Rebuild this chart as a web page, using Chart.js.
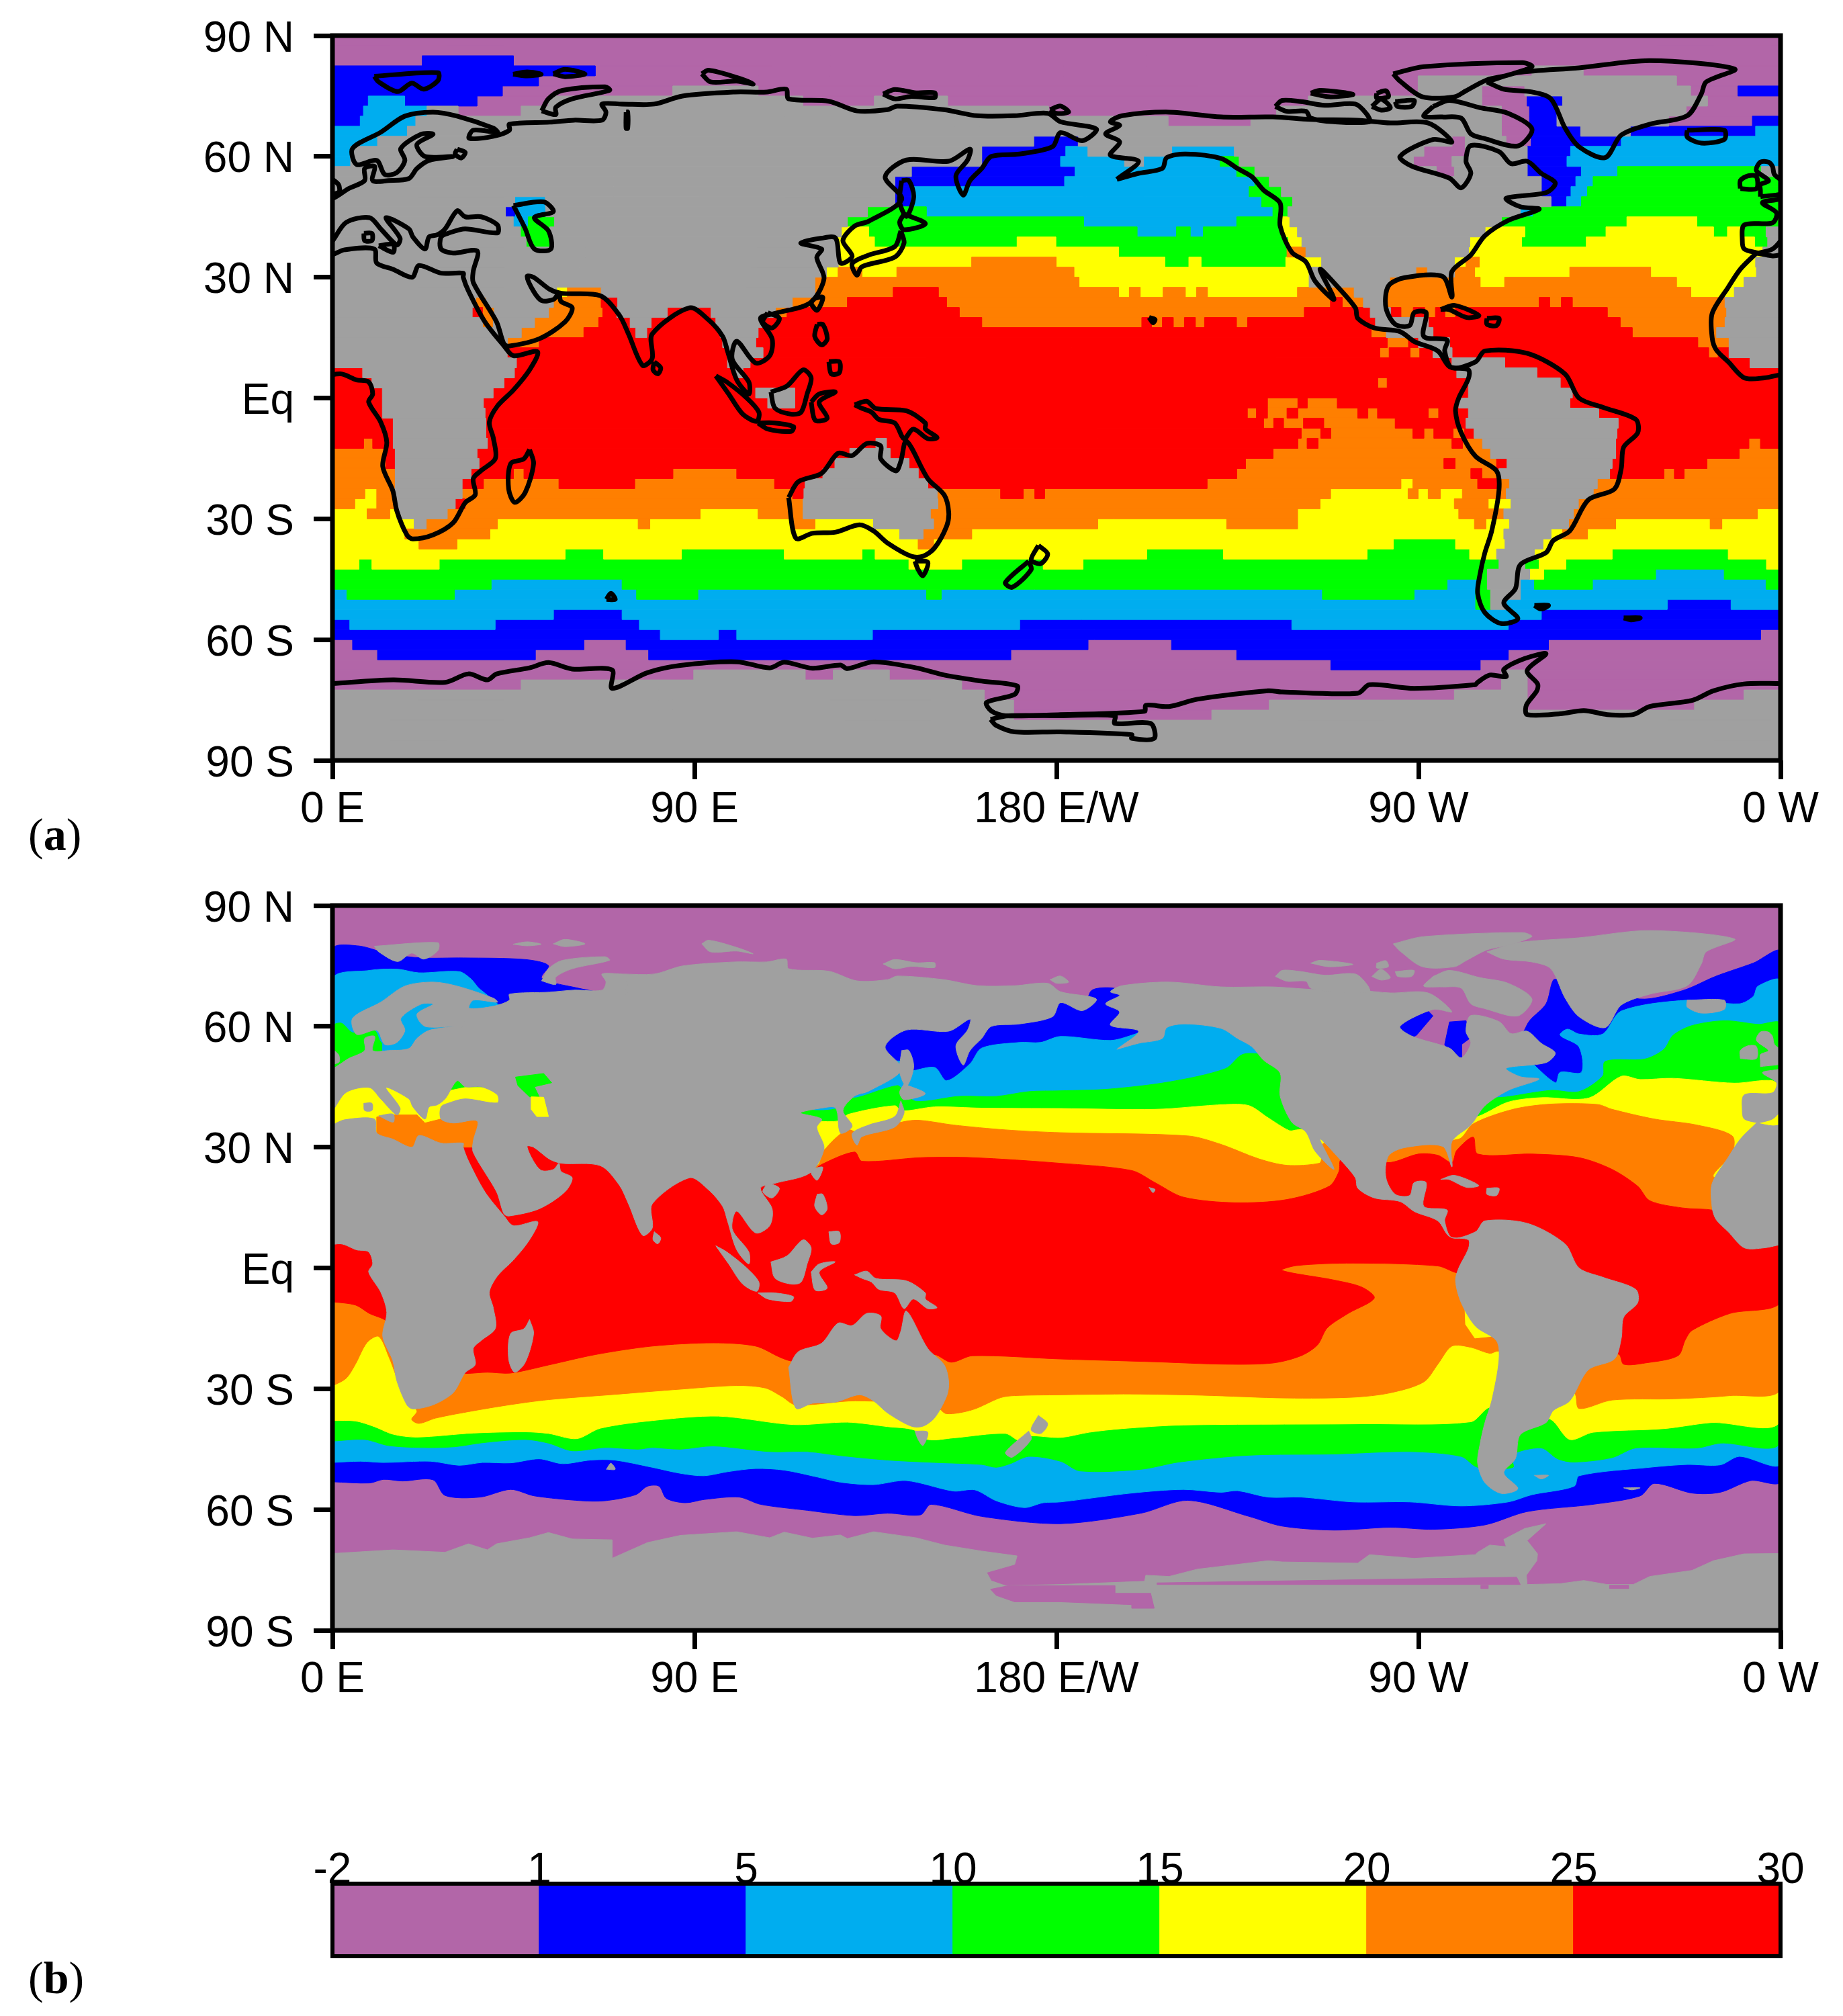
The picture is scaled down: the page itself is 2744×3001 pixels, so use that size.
<!DOCTYPE html>
<html>
<head>
<meta charset="utf-8">
<script src="https://cdn.jsdelivr.net/npm/chart.js@4"></script>
<style>
  html, body { margin: 0; background: #fff; }
  body { position: relative; width: 2744px; height: 3001px; overflow: hidden; }
  canvas { position: absolute; left: 0; }
  .tag { position: absolute; left: 42px; font: 68px "Liberation Serif", serif; line-height: 1; color: #000; }
  .tag b { font-weight: bold; }
</style>
</head>
<body>
<canvas id="mapA" width="2744" height="1290" style="top:0"></canvas>
<canvas id="mapB" width="2744" height="1290" style="top:1295px"></canvas>
<canvas id="scaleBar" width="2744" height="240" style="top:2700px"></canvas>
<div class="tag" style="top:1208px">(<b>a</b>)</div>
<div class="tag" style="top:2910px">(<b>b</b>)</div>
<script>
// temperature classes
const P = 0, B = 1, C = 2, G = 3, Y = 4, O = 5, R = 6, L = 7;
const classColors = ['#b266a8', '#0000ff', '#00adef', '#00ff00', '#ffff00', '#ff7f00', '#ff0000', '#a0a0a0'];
const barTicks = ['-2', '1', '5', '10', '15', '20', '25', '30'];

const lonTicks = [0, 90, 180, 270, 360];
const lonLabels = ['0 E', '90 E', '180 E/W', '90 W', '0 W'];
const latTicks = [-90, -60, -30, 0, 30, 60, 90];
const latLabels = ['90 S', '60 S', '30 S', 'Eq', '30 N', '60 N', '90 N'];

// panel (a): one row every 2.5 deg from 90N, pairs of [start lon, class]
const gridRows = [
  [0,P],
  [0,P],
  [0,P,22.3,B,45,P],
  [0,B,65.3,P,298.2,L,310.9,P],
  [0,B,51.2,P,269.9,L,334.1,P],
  [0,B,42.2,P,84.6,L,105.8,P,269.9,L,285.7,P,296.4,L,337.6,P,349.4,B],
  [0,B,8.9,C,17.9,B,35.9,P,53.7,L,116.9,P,134.7,L,152.9,P,242.6,L,285.7,P,297,B,305.8,L,341.8,P],
  [0,B,7.7,C,23.5,L,31.2,P,46.9,L,178,P,234.7,L,290.6,P,297.6,B,304.4,L,336.5,P],
  [0,B,6.9,C,20.7,L,207.7,P,228.3,L,290.6,P,297.6,B,304.4,L,332.2,P,353,B],
  [0,C,18.6,L,290.6,P,298.2,B,310.3,L,322.6,B,353.8,C],
  [0,C,11.2,L,174.3,B,185.4,L,278.3,P,281.6,L,291.7,P,298,B,320.4,C],
  [0,C,4.5,L,161.4,B,182.3,C,187.8,L,208.6,C,224.2,L,271.3,P,281.6,L,297,B,307.8,C],
  [0,C,4.5,L,161.4,B,181,C,196.9,L,201.6,C,220.7,G,225.4,L,268.7,P,278.3,L,297,B,306.9,C],
  [0,L,143.9,B,184.6,C,224.8,G,229.3,L,274.4,P,278.9,L,297,B,310.5,C,319.5,G,355.2,L],
  [0,L,139.8,B,182,C,229.3,G,232.9,L,300.5,B,309.1,C,313.4,G],
  [0,L,139.8,B,143.9,C,227.9,G,235.9,L,300.5,B,307.9,C,312,G],
  [0,L,45.3,C,52.9,L,139.8,B,143.9,C,231,G,238.7,L,302.9,B,306.8,C,310.5,G],
  [0,L,43,B,45.5,C,53,L,133,G,147.6,C,233.8,G,237.5,L,295.3,C,298.5,G],
  [0,L,44.9,C,48.7,G,55.2,L,128,G,186.7,C,224.8,G,235.9,Y,238,L,290.6,G,321.8,Y,339.2,G],
  [0,L,46.7,G,54,L,126.5,Y,133.3,G,200,C,209.8,G,213.2,C,216.5,G,235.9,Y,239.9,L,286.5,Y,296.4,G,316.6,Y,343.3,G,346.8,Y,350,G,356.4,L],
  [0,L,48.1,G,54.3,L,125.1,Y,134.7,G,170.2,Y,179.8,G,237.7,Y,241,L,282.7,Y,295.6,G,311.7,Y,353.5,G,356.8,L],
  [0,L,125.7,Y,195.4,G,237.3,O,242,L,282.4,Y,355.6,L],
  [0,L,125.7,Y,158.9,O,179.9,Y,206.9,G,212.9,Y,215.9,G,237,Y,245.9,L,278.9,Y,281.8,O,285.1,Y,353.8,L],
  [0,L,122.8,Y,125.7,O,131.6,Y,140.3,O,184.3,Y,242.8,L,269.3,O,272.2,L,278.9,O,283.9,Y,307.6,O,327.7,Y,354,L],
  [0,L,119.9,O,185.6,Y,242.8,L,262.8,O,285.3,Y,291.4,O,334.1,Y,350.9,L],
  [0,L,55.7,Y,58.4,O,66.8,L,119.9,O,139.4,R,150.6,O,195.4,Y,198.1,O,200.8,Y,206.5,O,212,Y,214.8,O,217.5,Y,239.9,O,254,L,261.9,O,337.7,Y,348.5,L],
  [0,L,35.6,O,38.1,L,54.9,O,66.8,R,70.9,L,114.3,O,128,R,152.7,O,248.1,R,251,O,256.3,L,261.9,O,300,R,302.6,O,305.5,R,308.2,O,346.2,L],
  [0,L,34.7,R,37.3,O,40.2,L,53.7,O,67.2,R,70.7,L,83.2,R,94.1,L,110.1,O,113,R,155.8,O,241.6,R,258,L,263,R,265.6,O,268.7,R,271.5,O,274.2,R,276.5,O,279.2,R,316.9,O,346.6,L],
  [0,L,37.3,O,40,L,50.2,O,66.2,R,74,L,79.2,R,95.3,L,107,R,161.4,O,201.2,R,203.6,O,206.3,R,209,O,211.8,R,214.5,O,216.8,R,224.7,O,227.5,R,259.3,L,272.4,R,320.1,O,346.2,L],
  [0,L,46.9,O,62.5,R,75.4,L,78.1,R,96.4,L,105.8,R,258.2,O,262,L,273.6,R,323.1,O,344.1,L],
  [0,L,43.5,O,51.4,R,97,L,105.2,R,262.2,O,267.5,R,270,L,277.7,R,339.4,O,347.2,L],
  [0,L,43.4,R,98.2,L,107,R,260.4,O,262.7,R,267.9,O,270.3,R,273.6,L,278.3,R,342.1,O,344.5,R,347.2,L],
  [0,L,45.7,R,98.2,L,103.8,R,278.3,L,291.4,R,352.4,L],
  [0,R,7.5,L,45.2,R,100,L,102,R,279.5,L,299.4,R],
  [0,R,9.8,L,42.6,R,259.9,O,262.2,R,282.4,L,305.2,R],
  [0,R,12.4,L,39.9,R,105.2,L,114.9,R,282.4,L,308.2,R],
  [0,R,12.4,L,37.5,R,108.2,L,114.9,R,232.4,O,240,R,242.3,O,249.8,R,280,L,307.6,R],
  [0,R,12.4,L,37.9,R,227.4,O,229.7,R,232.4,O,237.3,R,240,O,254.9,R,257.4,O,259.8,R,272.4,O,275,R,282.4,L,314.8,R],
  [0,R,15.1,L,38.1,R,231.5,O,234,R,236.4,O,241.4,R,246.4,O,264.2,R,281.8,L,319.6,R],
  [0,R,15.1,L,38.1,R,240.8,O,245.7,R,248.2,O,268.6,R,271.3,O,273.8,R,278.6,O,281.4,R,283.8,L,319.3,R],
  [0,R,7.7,O,10,R,15.1,L,38.5,R,135.1,L,137.7,R,240,O,242.3,R,245,O,278.3,R,280.9,O,285.9,L,319,R,352.1,O,355,R],
  [0,O,13.3,R,15.6,L,35.9,R,128.6,L,138.6,R,233.8,O,287.9,L,319,R,349.7,O],
  [0,O,13.3,R,15.6,L,36.4,R,124.9,L,143.3,R,227,O,276.3,R,279.1,O,289.4,R,292,L,318.1,R,341.7,O],
  [0,O,15.6,L,34.4,R,45,O,47.6,R,84.6,O,100.5,R,121.9,L,145.6,R,224.8,O,283,R,285.7,O,290,L,317.5,R,331,O,333.6,R,336,O],
  [0,O,15.6,L,32.2,R,37.5,O,56.3,R,75.1,O,109.9,R,117.5,L,148,R,217.4,O,265.6,Y,268.6,O,284.7,R,289.4,O,292.6,L,314.4,O],
  [0,O,8,Y,11,O,15.1,L,32.2,O,114.4,R,117.2,L,150.3,O,166.1,R,171.7,O,174.6,R,177,O,248.1,Y,267.4,O,269.9,Y,272.4,O,275.4,Y,280.9,O,291.8,L,313.4,O],
  [0,O,5.5,Y,11,O,15.6,L,30.5,R,32.9,O,117,L,150.5,O,245.5,Y,278.9,O,287.3,Y,293,L,309.7,O],
  [0,Y,8.6,O,14.2,Y,16,L,28.5,O,91.4,Y,105.8,O,117,L,148.6,O,239.9,Y,280,O,291.2,L,308.5,O,354.2,Y],
  [0,Y,20.3,L,23.3,O,41,Y,76,O,78.9,Y,114,O,119.9,Y,134.5,L,149.4,O,190.2,Y,222.3,O,239.9,Y,283.9,O,286.7,Y,292.6,L,307.3,O,319,Y,342.5,O,345.4,Y],
  [0,Y,18,O,39.1,Y,141,L,146.8,O,158.9,Y,291.2,L,302.9,Y,305.8,O,312,Y],
  [0,Y,21.5,O,30.9,Y,145.6,O,149.4,Y,263.7,G,279.2,Y,291.5,L,300.9,Y],
  [0,Y,57.8,G,67.4,Y,86.7,G,112.3,Y,131.6,G,134.9,Y,202.4,G,221.5,Y,257.2,G,282.7,Y,289.4,L,298.8,Y,318.1,G,347,Y],
  [0,Y,6.6,G,9.8,Y,26.5,G,143.3,Y,156.4,G,176.7,Y,186.6,G,290,L,296.4,G,300,Y,306.6,G,356.5,Y],
  [0,G,287.1,L,297.6,Y,301.1,G,328.9,C,346,G],
  [0,G,39.4,C,72,G,277.1,C,284.7,G,287.1,L,295.3,C,298.8,G,313.2,C,356.4,G],
  [0,C,3.6,G,30.3,C,75.6,G,90.8,C,147.7,G,151.3,C,246.1,G,268.9,C,284.2,G,287.9,L,295.3,C],
  [0,C,284.2,G,287.9,L,291.8,C,331.8,B,347.7,C],
  [0,C,54.9,B,72,C,300.5,B],
  [0,B,4.3,C,40.4,B,76.3,C,170.8,B,238.5,C,292.3,B],
  [0,B,81.5,C,95.9,B,100.5,C,134.2,B,355,P],
  [0,P,5,B,62.5,P,73,B,187.8,P,208.6,B,302.3,P],
  [0,P,11.2,B,50.4,P,78.6,B,168.6,P,224.8,B,292.3,P],
  [0,P,248.2,B,285.3,P],
  [0,P,89.8,L,117.5,P,124.5,L,138.4,P,290.6,L,297,P],
  [0,P,46.9,L,156.4,P,290.6,L,297,P],
  [0,L,162,P,278.9,L,297,P,350.9,L],
  [0,L,169.3,P,232.9,L,297,P,338.6,L],
  [0,L,169.3,P,218.6,L],
  [0,L],
  [0,L],
  [0,L],
  [0,L]
];

// panel (b): isotherms as lon,lat pairs, each band = south edge + north edge
const above1South = [0,-53.1, 9.2,-53.4, 12.7,-52.5, 17.4,-52.9, 25,-52.6, 28,-56.5, 36.7,-56.9, 44.3,-55, 50.2,-56.6, 61.9,-57.8, 67.8,-57.8, 75.4,-56.3, 78.3,-54.2, 81.2,-54.2, 83,-57.2, 87.7,-58.3, 92.4,-57.5, 101.1,-56.9, 106.4,-58.7, 118.1,-60.2, 129.8,-61.5, 138,-60.9, 146.2,-61.3, 148.8,-58.7, 161.4,-61.7, 181,-63.5, 201,-60.9, 212.7,-57.7, 227.9,-61.7, 236.1,-64.1, 249,-65.1, 263,-64.4, 273.6,-64.9, 286.5,-63.8, 297,-60.5, 313.4,-58.7, 325.1,-56.6, 328.6,-53.5, 338,-55.9, 345,-55.7, 352.6,-52.8, 360,-52.8];
const above1North = [0,79, 6.3,80, 14,78, 22,77, 32.6,77, 47.9,76.6, 53.7,75.1, 52,72, 59.6,69.8, 80,66, 120,60, 135,57, 150,63, 165,66, 178,66, 187,66, 188.7,68.9, 191.6,69.6, 195,69.3, 205,65, 240,52, 285,50, 295,57, 297.6,61.4, 301.7,65.6, 303.5,71.5, 305.2,71.5, 325,66.8, 335.7,68.9, 343.8,72.4, 353.2,75.7, 360,78.4];
const above5South = [0,-48.3, 6.9,-48, 12.7,-48.3, 24.4,-48, 31.5,-49, 37.3,-48.3, 44.3,-48.4, 51.4,-47.4, 57.2,-48.6, 64.2,-47.7, 70.1,-47.7, 79.5,-49.5, 86.5,-51, 92.4,-51.6, 98.2,-50.6, 105.2,-49.8, 112.3,-50.2, 120.5,-51.9, 126.3,-53.2, 134.5,-53.8, 142.7,-52.8, 154.4,-55.4, 159.7,-55.1, 165,-57.8, 172,-59.5, 176.7,-58.3, 181,-58.1, 198.7,-55.9, 211.5,-55, 220.9,-55.7, 225,-55.3, 232.6,-56.9, 240.8,-56.9, 253.7,-58.1, 267.8,-58.1, 280.6,-59.1, 292.3,-58.1, 298.2,-56.3, 308.7,-54.2, 309.9,-51.6, 327.5,-49.5, 336.8,-48.8, 345,-48.9, 349.7,-46.8, 360,-48.3];
const above5North = [0,71.5, 9.2,73.9, 16.2,74.2, 21.5,73.3, 31.5,73.6, 34.4,71.8, 36.7,69.2, 50,60, 100,55, 135,51, 141.5,51.3, 142.7,48.9, 149.7,49.8, 152.7,46.5, 158.5,50.7, 161.4,54.6, 170.8,56, 176,56, 181,57.5, 193.4,56.5, 198.7,57.8, 205,60, 225,62, 280,48, 292,55, 304,46, 305.2,48.6, 310.5,48.6, 309.9,54.9, 305.2,57.8, 307,59.3, 309.9,58.1, 315.8,58.1, 320.4,63.8, 336.8,66.5, 349.7,65.6, 353.2,67.4, 354.4,70, 360,71.2];
const above10South = [0,-43, 8,-42.6, 13.9,-44.1, 22.1,-44.6, 30.3,-44.4, 37.3,-43.4, 47.9,-42.6, 53.7,-43.5, 59.6,-45.4, 67.8,-44.6, 76,-45, 79.5,-44.6, 86.5,-45, 94.7,-44.2, 108.7,-45.6, 118.1,-45.6, 126.3,-46.6, 138,-47.7, 149.7,-48.3, 161.4,-48.8, 165,-49.5, 168.5,-48.6, 173.1,-46.8, 181,-48, 185.8,-50.4, 201,-50, 210.4,-48.2, 227.9,-46.5, 249,-46.2, 267.8,-45.6, 280.6,-46.8, 284.7,-49.5, 293.5,-49.5, 293,-46.5, 300.5,-44.7, 304.6,-47.4, 308.7,-48.2, 318.1,-47.1, 324,-44.7, 339.2,-44.7, 345,-43.5, 360,-43];
const above10North = [0,59.9, 2.2,60.8, 5.1,58.4, 10.4,59, 12.1,56, 20,50, 40,48, 100,45, 117,39.5, 125,39.5, 127,42, 130.4,42.3, 140.4,45.3, 142,44, 145,41.4, 155.6,42.6, 165,42.6, 173.1,43.8, 181,44, 192.8,44.4, 208,46.2, 222,49.5, 226.2,53, 230.9,53, 240,50, 280,42, 289.4,42.3, 292,42.5, 302.9,44.1, 309.9,43.8, 315.8,47.7, 316.4,51.3, 326.3,51.9, 331,54.3, 333.3,57.8, 338,60.2, 346.2,61.4, 354.4,60.5, 360,60.5];
const above15South = [0,-37.9, 5.7,-38, 10.4,-39.4, 15.1,-41.3, 20.9,-42, 35,-41, 47.9,-40.7, 53.7,-41.1, 60.7,-42.4, 66.6,-39.8, 79.5,-37.9, 95.9,-36.8, 114.6,-38.9, 128,-38.3, 138,-39.4, 144.5,-40.2, 148,-42.6, 154.4,-42.2, 167.3,-41.1, 170.8,-42.9, 173.1,-41.7, 181,-42.1, 188.1,-40.8, 196.3,-39.9, 211.5,-39, 256,-38.7, 283,-38.2, 287.7,-34.6, 295,-36, 302.9,-37.6, 307.6,-42.6, 313.4,-40.8, 331,-39.9, 342.7,-38.4, 360,-37.7];
const above15North = [0,44, 20,44, 60,40, 100,38, 120.4,36.5, 125.7,36.5, 128.4,38.2, 139.8,40.3, 141.5,39, 149.7,40, 161.4,39.7, 181,39.6, 204.5,39.4, 222,40.6, 227.9,40.3, 232.6,37.3, 237.9,34.1, 239.7,34.3, 262,36, 283.6,37.3, 292.3,41.2, 300.5,42.3, 312.3,42.2, 320.4,47.6, 325.1,46.8, 333.3,47.1, 348.5,45.9, 358,46.5, 360,44];
const above20South = [0,-29.3, 3.4,-27.4, 5.7,-23.9, 8.6,-18.5, 11.5,-17, 14,-22, 18,-32, 21,-35.5, 19.7,-37.6, 21.5,-38.6, 25.6,-37.3, 32.6,-35.9, 43.2,-34.1, 53.7,-32.7, 70.1,-31.4, 86.5,-30.1, 100.5,-29.2, 107.6,-29.8, 111.7,-31.9, 115.2,-34, 130,-33, 150,-34, 150.6,-34.6, 152.7,-36.2, 159.1,-35.2, 166.1,-32.2, 169.6,-31.7, 181,-31.5, 198.7,-31.3, 216.2,-31.6, 237.3,-32.3, 253.7,-32.1, 263,-31, 271.3,-28.3, 274.8,-23.9, 278.3,-19.4, 283,-19.7, 287.7,-21.2, 290,-20.7, 300,-28, 308.7,-31, 309.9,-34.9, 318.1,-32.8, 333.3,-32.5, 347.4,-31.7, 360,-29.9];
const above20North = [0,25, 60,32, 110,32, 120.5,25.6, 122.2,29.2, 128,34.3, 132,33, 141,36.1, 145.6,36.7, 154.4,35.5, 167.3,34.3, 181,33.6, 212.7,32.8, 220.9,30.7, 230.3,27.1, 237.3,25.5, 245.3,26, 246,27.4, 246.5,31, 265,31, 280,32, 283.6,35.8, 293.5,39.4, 302.9,40.7, 314.6,40.6, 318.1,39.4, 328.6,37, 339.2,35.5, 348,32.8, 348,28.6, 343.3,22.7, 352,22, 360,25];
const above25South = [0,-8.4, 5.7,-9.2, 9.2,-11.3, 13.3,-13.1, 20,-20, 30,-26, 33.2,-26.2, 38.5,-25.9, 44.3,-26.1, 53.7,-24.1, 65.4,-21.5, 79.5,-19.4, 94.7,-18.6, 105.2,-19.4, 111.1,-22.1, 114,-23.1, 130,-25, 148,-23, 149.7,-21.5, 153.8,-23.4, 159.1,-21.8, 181,-22.6, 204.5,-23.3, 222,-23.9, 233.8,-23.6, 240.8,-21.8, 244.9,-19.1, 247.3,-14.9, 252.5,-11.3, 259,-7.5, 256,-4.8, 249,-3, 236.1,-0.6, 239.7,0.6, 253.7,1.2, 274.8,0.5, 279.5,-1.2, 300,-5, 317,-21, 319.9,-21.5, 321,-23.9, 326.3,-23.6, 334.5,-21.8, 336.3,-17.9, 338,-15.5, 347.4,-11.3, 360,-8.5];
const above25North = [0,10, 12,26, 33,30, 48,31, 60,31, 100,30, 115,25, 118.1,23.3, 121.6,25.7, 129.8,28.8, 131.6,26.5, 146.2,27.4, 159.1,27.4, 181,26, 198.7,24.2, 204.5,21.2, 211.5,17.6, 224.4,16.2, 237.3,17, 247.8,20.3, 250.2,23.9, 250.8,27, 258,27, 263,26.2, 270,28.3, 274.8,28, 278.3,26.2, 279.5,29.2, 283.6,32.5, 284.7,28.3, 298.2,28.3, 309.9,27.4, 318.1,24.5, 324.5,20.3, 327.5,16.7, 335.7,14.9, 343.6,14.3, 350,12, 360,10];

// enclosed seas of panel (b), drawn under the land
const medWest = [-6,30, 32,30, 32,46, -6,46];
const medEast = [11,30, 11,37.5, 14,38, 21,38, 23,36, 27,37, 37,37, 37,30];
const blackSea = [26,40, 44,40, 44,48, 26,48];
const blackSeaNorth = [27,48, 42,48, 42,45, 36,45, 33,45, 28,44];
const baltic = [12.5,50, 31,50, 31,68, 12.5,68];
const hudsonWest = [265.4,60.5, 272.4,63.8, 273.6,62.6, 269.5,57.8, 266,56];
const jamesBay = [277.7,61.1, 281.8,61.4, 283,57.2, 280.7,55.5, 280.7,51, 278.9,51, 276.5,55.5];
const peruSliver = [281.5,-9, 281.7,-14, 284,-17.4, 288,-17, 286,-13];

// inland water shown over the land
const caspian = [45,47.8, 52.5,48.7, 54.9,46.3, 50.2,44.8, 53.7,41.5, 54.3,37, 50.2,37, 47.9,42.1, 46.7,44.5];
const caspianNorth = [45.5,47.4, 52.5,48.3, 54.5,46, 50.2,45, 51.4,42.5, 49,42.5, 46.1,45.3];
const caspianSouth = [49.4,42.5, 52.5,42.4, 53.7,37.6, 50.8,37.6, 49.4,39.4];
const rossShelf = [163.6,-79.8, 168,-78.9, 181,-78.9, 194.5,-78.9, 194.5,-80.8, 203.4,-80.8, 204.3,-84.5, 198.7,-84.5, 198.7,-83.6, 181,-82.9, 169.6,-82.9, 165,-81.3];
const shelfSliver = [205,-78.2, 294.4,-76.8, 295.3,-78.6, 205,-78.6];
const shelfBitA = [285.5,-78.8, 287.3,-78.8, 287.3,-79.6, 285.5,-79.6];
const shelfBitB = [317.5,-78.8, 322.2,-78.8, 322.2,-79.6, 317.5,-79.6];

// coastlines, lon,lat (negative lon wraps round to the right edge)
const africa = [-6,36, -10,32, -13,27.5, -17,21, -17,15, -16,12, -13,9, -9,5, -4,5, 2,6, 6,4.5, 9,4, 10,1, 9,-1, 12,-6, 13.5,-11, 12.5,-17, 15,-23, 16,-28, 18.5,-34, 20,-35, 25,-34, 30,-31, 33,-26, 35.5,-24, 35,-20, 37,-18, 40.5,-15, 40,-10, 39,-6, 41,-2, 45,2, 49,7, 51,11.5, 45,10.5, 42.6,13, 37.9,18.9, 33.8,26.6, 32.5,30, 32.5,31, 27,31, 21.5,32.9, 19.8,30, 15,32, 11,33.5, 10.4,37, 3,36.8, 0,35.6, -2,35.3];
const eurasia = [-5.5,36, -9,37, -9.5,39, -9,43, -2,43.5, -1,46, -4.5,48.5, 0,49.5, 4,52, 8,54, 8,57, 10.5,57.5, 10,54, 14,54, 19,54.5, 21,57, 24,59, 30,60, 23,60, 21,63, 25,65.5, 22,65.5, 17,62, 18,59, 16,56, 13,55.5, 11,59, 6,58, 5,62, 12,66, 18,70, 25,71, 31,70, 40,67, 41,66, 35,66.5, 34,64.5, 40,65, 44,66.5, 44,68, 54,68.5, 60,69, 67,69, 68,71, 67,73, 72,73, 80,73, 87,75, 100,76, 108,76, 112.8,76.7, 113.4,74.3, 123.4,73.7, 130.4,71.3, 138,71.6, 140.4,72.5, 152,71.6, 160.3,70.1, 169.6,70.1, 177.8,70.7, 181,68.6, 189.9,66.8, 186.4,63.9, 181,65.9, 179,62.4, 170.8,60.6, 163.8,60, 161.4,57, 158.5,54, 156.8,50.4, 155,55.2, 157.9,59.1, 158.5,61.8, 153.2,58.8, 142.7,59.1, 137.4,54.9, 141.5,49.3, 133.3,43.9, 129.8,42.7, 126.9,39.1, 129.2,35.2, 126.3,33.5, 125.1,39.7, 121.6,39.7, 116.4,38.5, 121.6,37, 120.4,34.9, 122.2,29.6, 118.7,23.6, 109.9,21, 106.4,19.8, 109.3,14.7, 108.7,10.5, 105.2,8.7, 100.5,14.1, 99.4,9.6, 103.5,4, 103.5,1, 100.5,4.5, 98.2,11.7, 97,15.3, 93.5,19.4, 88.8,22.4, 79.5,15.9, 79.5,9.9, 77.1,8.1, 73.6,15.9, 71.3,20.6, 66.6,25.4, 57,26, 54,27, 50,30, 48.4,30.2, 50,26.5, 52,24.2, 55,24.5, 56.3,26, 56.8,24, 59.6,22.4, 57.8,18.9, 51.4,14.7, 43.8,12.9, 42.6,13.5, 40.8,18.9, 35,28.7, 35,31.5, 36,36.5, 30,36, 27,37, 27,40, 29,41, 33,42, 41,41, 41,43, 37,45, 33,45, 31,46.5, 28,42, 26,40.5, 24,40, 23,37, 20,40, 19,42, 13.3,44.8, 16.8,39.7, 16,38, 12,42, 9.2,44.8, 3.4,43.6, 0,39, -2,37];
const americas = [195,54.3, 200.4,55.8, 206.3,57, 207.4,59.7, 212.1,60.6, 220.9,59.5, 225,57, 228.5,55, 231.5,51.6, 235.6,48.4, 235.6,42.7, 238.5,36.2, 242,33.8, 244.3,29, 249,24.5, 245.5,32, 250,27.5, 254.3,22.4, 254.9,19.8, 259,17.4, 265.4,16.5, 269,14, 274.8,11.7, 277.7,7.8, 282.4,7, 282.4,4.8, 280,0, 279.2,-3.2, 280.6,-8.6, 284.2,-14.5, 289.4,-18.1, 290,-22.9, 288.2,-33, 286.5,-38.4, 285.3,-43.7, 284.7,-48.5, 286.5,-53.3, 290.6,-56, 294.7,-54.8, 291.2,-50.9, 294.1,-47.3, 295.3,-41.4, 301.7,-38.4, 303.5,-35.4, 307.6,-33, 312.2,-25.3, 318.7,-22.6, 320.4,-17.5, 321,-12.2, 324.5,-8.6, 324,-5.3, 315.8,-2.3, 309.9,0, 306.4,6, 297,11.1, 286.5,11.7, 284.2,9, 278.3,7.5, 276.5,11.7, 277.1,14.4, 271.3,15.3, 271.9,21.2, 268.9,21.2, 267.8,18, 264.2,18.3, 261.9,22.4, 262.5,27.8, 266.6,29.9, 276,30.2, 278.3,25.1, 278.3,31.4, 283,35.5, 286.5,40.3, 292.3,44.1, 300,46.9, 295.3,47.5, 291.8,49.6, 301.7,51, 304,53.4, 300.5,55.8, 297,58.8, 293,58.2, 290,61.2, 283,62.7, 281.8,58.8, 283,55.8, 280.6,52.2, 277.7,54.6, 268.3,57.6, 265.4,60, 273.6,64.2, 278.3,63.6, 272.4,68.3, 263,68.3, 254.9,69, 243.2,69.2, 233.8,69.8, 220.9,69.8, 208,71, 196.3,70.1, 193.4,68.6, 195.7,67.7, 192.2,65.6, 195.7,63.6, 193.4,60.3, 200.4,58.8];
const antarcticCoast = [0,-70.9, 15.1,-70, 28,-70.6, 33.8,-68.5, 38.5,-70, 40.8,-68.5, 49,-67, 53.7,-65.7, 59.6,-67.3, 69.5,-67.5, 69.5,-72.1, 78.3,-68.2, 86.5,-66.4, 100.5,-65.5, 108.7,-67, 112.3,-65.6, 119.3,-67.1, 126.3,-66.3, 128,-67.2, 134.5,-65.5, 145.1,-67, 152.1,-68.8, 161.4,-70.3, 170.2,-71.5, 169.6,-73.6, 162.6,-75.6, 163.8,-77.7, 167.3,-78.9, 181,-78.6, 201.9,-77.8, 202.2,-76.3, 208,-76.6, 215,-74.8, 232.6,-72.7, 236.1,-73, 254.9,-73.3, 257.8,-71.2, 268.9,-72.1, 284.1,-71.2, 284.7,-70.6, 287.7,-68.8, 291.8,-69.2, 291.2,-67.4, 296.4,-64.7, 301.7,-63.5, 297,-67.7, 299.6,-71, 299.4,-72.7, 296.8,-76.3, 297,-78.6, 305.2,-78.4, 311.1,-77.6, 316.9,-78.6, 323.4,-78.6, 327.5,-76.6, 338,-75.1, 343.3,-72.7, 350.9,-71, 360,-70.9];
const antarctica = [...antarcticCoast, 360,-90, 0,-90];
const greenland = [287,78.5, 294.7,80.8, 309.9,82, 327.5,83.8, 348.6,81.7, 341.5,78.5, 340.3,75.5, 336.8,70.1, 327.5,68, 320.4,65.3, 316.4,59.7, 309.9,62.4, 306.4,67.1, 302.9,74.3, 298.2,76, 291.2,76.7];
const ellesmere = [263.7,80.5, 271.3,82.3, 295.9,83.3, 298.2,82.3, 292.3,80.2, 287,79, 281.8,76.3, 278.9,74.8, 271,74.8, 265.4,78.7];
const baffin = [273.6,72.4, 277.7,73.9, 285.3,72.1, 292.3,70.7, 298.2,66.8, 294.7,62.6, 286.5,64.4, 283,65.6, 280.6,69.5, 275.9,69.8, 271.3,70];
const victoria = [234.4,72.4, 236.1,73.9, 240.8,73.6, 246.7,72.7, 254.3,73, 257.2,70.4, 257.8,68.6, 249,68.6, 243.2,69.5, 242,71.2, 237.3,71.2];
const melville = [243.2,75.7, 245.5,76.4, 253.7,75.4, 247.8,74.8];
const arcticA = [259.6,75.7, 261.9,76.3, 262.5,74.8, 259.6,74.5];
const arcticB = [258.4,72.4, 260.7,74.2, 263,72.1, 260.7,71.5];
const arcticC = [264.2,73.6, 268.9,73.9, 268.3,72.4, 264.8,72.4];
const iceland = [336.8,66.5, 346,66.5, 346,64.2, 340.3,63.3, 336.8,64.8];
const britain = [-5,50, 1.5,51, 1.5,53, -1.5,55.5, -2,57.5, -3,58.6, -5,58.6, -6,56.5, -3,54, -5,53, -5,51.5];
const ireland = [-10,52, -6,52, -6,55, -8,55.2, -10,54];
const svalbard = [10.4,79.9, 26.2,80.8, 26.2,78.8, 22.7,76.7, 19.7,78.2, 16.2,76.1, 11.5,78.5];
const franzJosefA = [44.9,80.4, 48.4,81, 51.9,80.4, 48.4,80];
const franzJosefB = [54.9,80.5, 57.8,81.6, 62.8,80.5, 57.8,79.8];
const novaya = [52,71.3, 53.7,74.3, 57.2,76.4, 67.8,77.3, 68.9,76.4, 59.6,74.3, 55.5,72.2, 55.5,70.4];
const severnaya = [91.8,80.5, 93.5,81.4, 100.5,79.6, 104.6,78, 100.5,78.7, 94,78.5];
const newSiberian = [136.9,75.5, 139.8,76.6, 145.1,75.8, 149.7,75.8, 149.7,74.6, 143.9,74.9, 139.8,74.3];
const wrangel = [178.4,71.6, 181,72.5, 183,71, 180,70.7];
const obGulf = [73,71, 73.4,71, 73.4,67, 73,67];
const ladoga = [31,61.8, 33,61, 32,59.6, 30.5,60.6];
const sakhalin = [141.5,54, 143.3,54, 144.5,49.9, 142.7,45.1, 141,48.7];
const hokkaido = [142.1,45.7, 147.4,43.3, 142.1,41.8, 141,43.6];
const honshu = [141.3,41.5, 142.1,38.5, 139.8,35, 131.6,32.6, 130.4,30.5, 129.2,33.4, 133.3,35.5, 139.8,37.6];
const taiwan = [119.9,24.8, 121.9,25, 120.5,21.8, 119,23.6];
const hainan = [108.2,21.2, 111.1,19.8, 109.3,17.4, 107,18.9];
const luzon = [120.5,18.3, 121.9,18.3, 123,14.7, 121.6,13.2, 119.9,15.3];
const mindanao = [123.4,9, 126,9, 126,6.3, 124,6];
const sriLanka = [80,9, 81.6,7.5, 80.9,6, 79.7,7];
const sumatra = [95.3,5.5, 98,4, 103,0, 106,-3.5, 105.5,-5.8, 102,-4, 98.5,1];
const java = [105.8,-6.2, 110,-6.2, 114.6,-7.1, 114,-8.3, 108.2,-7.7];
const borneo = [109,1.5, 113,3, 117,7, 119,5, 118,1, 116.5,-3.5, 114,-4, 110,-2.5];
const sulawesi = [119,-1, 121,1, 125,1.5, 121,-1, 123,-5, 120,-5.5];
const newGuinea = [129.8,-1.7, 132.8,-0.8, 135.1,-2.6, 142.7,-3.2, 147.4,-6.2, 147.4,-7.7, 150.3,-9.8, 148,-10.1, 144.4,-7.7, 142.1,-10.1, 139.8,-6.2, 135.8,-5.3, 134,-3.5, 131.7,-2.6];
const australia = [113.4,-24.7, 115.2,-34.8, 119.3,-33.6, 125.1,-33.3, 131,-31.5, 134.5,-33, 138,-36, 143.9,-39.3, 146.8,-39.3, 149.7,-37.2, 152.7,-31.8, 153.2,-28.3, 152.1,-24.1, 148,-20, 142.7,-10.7, 141.3,-15.7, 140.1,-18.1, 136.3,-15.1, 136.3,-11.9, 132.8,-11.3, 129.2,-14.3, 125.7,-13.7, 121.6,-18.7, 115.8,-20.8];
const tasmania = [144.8,-40.5, 148,-40.8, 146.8,-44.1, 145.6,-42.6];
const nzNorth = [175.5,-36.6, 177.8,-38.7, 176.1,-41.1, 173.7,-40.2];
const nzSouth = [173.1,-40.5, 173.7,-42.6, 169,-47, 167.3,-45.8];
const madagascar = [49,-12.8, 50,-16.3, 47.9,-23.5, 45.3,-25.9, 43.8,-22.6, 44.3,-16.3, 47.6,-15.1];
const cuba = [275.5,22, 279,23, 285,20.5, 282,20, 277.5,22];
const hispaniola = [287,19.8, 290,19.8, 289.4,18, 287,18.3];
const falklands = [298.8,-51.5, 302.3,-51.5, 300.5,-52.4];
const southGeorgia = [321,-54.6, 325.1,-54.6, 323,-55.1];
const kerguelen = [68.1,-50, 70.3,-50, 69.2,-48.5];
const hawaii = [203,20, 204.5,19.5, 204,18.7];
const sicily = [11.5,37.8, 15.1,38.2, 15.1,36.2];
const sardinia = [7.8,40.9, 9.8,40.9, 9.8,39.1, 8,39.1];

const coastShapes = [africa, eurasia, americas, greenland, ellesmere, baffin, victoria, melville, arcticA, arcticB, arcticC, iceland, britain, ireland, svalbard, franzJosefA, franzJosefB, novaya, severnaya, newSiberian, wrangel, obGulf, ladoga, sakhalin, hokkaido, honshu, taiwan, hainan, luzon, mindanao, sriLanka, sumatra, java, borneo, sulawesi, newGuinea, australia, tasmania, nzNorth, nzSouth, madagascar, cuba, hispaniola, falklands, southGeorgia, kerguelen, hawaii, sicily, sardinia];
const SMOOTH = 0.3;

// flat lon,lat list -> closed run of points, repeated one turn east if it crosses 0
function outline(flat) {
    const pts = [];
    for (let i = 0; i < flat.length; i += 2) pts.push({ x: flat[i], y: flat[i + 1] });
    pts.push({ x: flat[0], y: flat[1] });
    pts.push({ x: null, y: null });
    if (flat.some((v, i) => i % 2 === 0 && v < 0)) {
        pts.slice().forEach(p => { if (p.x !== null) pts.push({ x: p.x + 360, y: p.y }); });
        pts.push({ x: null, y: null });
    }
    return pts;
}

function band(south, north) {
    const ring = south.slice();
    for (let i = north.length - 2; i >= 0; i -= 2) ring.push(north[i], north[i + 1]);
    return ring;
}

function shapeLayer(color, shapes, tension) {
    return {
        data: shapes.flatMap(outline),
        showLine: true, pointRadius: 0, fill: 'shape', tension: tension || 0,
        backgroundColor: color, borderColor: color, borderWidth: 1
    };
}

function lineLayer(points) {
    return {
        data: points,
        showLine: true, pointRadius: 0, fill: false, tension: SMOOTH,
        borderColor: '#000', borderWidth: 7, borderJoinStyle: 'round'
    };
}

function openLine(flat) {
    const pts = [];
    for (let i = 0; i < flat.length; i += 2) pts.push({ x: flat[i], y: flat[i + 1] });
    return pts;
}

function frameLayer(x0, x1, y0, y1, width) {
    return {
        data: [{ x: x0, y: y0 }, { x: x1, y: y0 }, { x: x1, y: y1 }, { x: x0, y: y1 }, { x: x0, y: y0 }],
        showLine: true, pointRadius: 0, fill: false, clip: false,
        borderColor: '#000', borderWidth: width, borderCapStyle: 'square', borderJoinStyle: 'miter'
    };
}

function gridLayers() {
    const perClass = classColors.map(() => []);
    gridRows.forEach((runs, i) => {
        const top = 90 - 2.5 * i, bottom = top - 2.5;
        for (let k = 0; k < runs.length; k += 2) {
            const end = k + 2 < runs.length ? runs[k + 2] : 360;
            perClass[runs[k + 1]].push([runs[k], top, end, top, end, bottom, runs[k], bottom]);
        }
    });
    return perClass.map((shapes, c) => shapeLayer(classColors[c], shapes));
}

const FONT = { family: '"Liberation Sans", Arial, sans-serif', size: 64 };

function drawMap(id, layers) {
    new Chart(document.getElementById(id), {
        type: 'scatter',
        data: { datasets: layers.slice().reverse() },
        options: {
            responsive: false, animation: false, devicePixelRatio: 1, events: [],
            layout: { padding: { top: 53, right: 93, left: 0, bottom: 0 } },
            plugins: { legend: { display: false }, tooltip: { enabled: false } },
            scales: {
                x: {
                    type: 'linear', min: 0, max: 360,
                    afterBuildTicks: s => { s.ticks = lonTicks.map(v => ({ value: v })); },
                    afterFit: s => { s.height = 158; s.paddingLeft = 0; s.paddingRight = 0; },
                    border: { display: false },
                    grid: { drawOnChartArea: false, color: '#000', tickLength: 28, tickWidth: 7 },
                    ticks: { color: '#000', font: FONT, padding: 8, maxRotation: 0, autoSkip: false,
                        callback: v => lonLabels[lonTicks.indexOf(v)] }
                },
                y: {
                    type: 'linear', min: -90, max: 90,
                    afterBuildTicks: s => { s.ticks = latTicks.map(v => ({ value: v })); },
                    afterFit: s => { s.width = 495; s.paddingTop = 0; s.paddingBottom = 0; },
                    border: { display: false },
                    grid: { drawOnChartArea: false, color: '#000', tickLength: 28, tickWidth: 7 },
                    ticks: { color: '#000', font: FONT, padding: 29, labelOffset: 6, autoSkip: false,
                        callback: v => latLabels[latTicks.indexOf(v)] }
                }
            }
        }
    });
}

// panel (a)
drawMap('mapA', [
    ...gridLayers(),
    lineLayer(coastShapes.concat([caspian, rossShelf]).flatMap(outline)),
    lineLayer(openLine(antarcticCoast)),
    frameLayer(0, 360, -90, 90, 7)
]);

// panel (b)
drawMap('mapB', [
    shapeLayer(classColors[P], [[0,-90, 360,-90, 360,90, 0,90]]),
    shapeLayer(classColors[B], [band(above1South, above1North)], SMOOTH),
    shapeLayer(classColors[C], [band(above5South, above5North)], SMOOTH),
    shapeLayer(classColors[G], [band(above10South, above10North)], SMOOTH),
    shapeLayer(classColors[Y], [band(above15South, above15North)], SMOOTH),
    shapeLayer(classColors[O], [band(above20South, above20North)], SMOOTH),
    shapeLayer(classColors[R], [band(above25South, above25North)], SMOOTH),
    shapeLayer(classColors[Y], [medWest, blackSea, peruSliver]),
    shapeLayer(classColors[O], [medEast]),
    shapeLayer(classColors[G], [blackSeaNorth]),
    shapeLayer(classColors[C], [baltic]),
    shapeLayer(classColors[B], [hudsonWest, jamesBay]),
    shapeLayer(classColors[L], coastShapes, SMOOTH),
    shapeLayer(classColors[L], [antarctica]),
    shapeLayer(classColors[G], [caspianNorth]),
    shapeLayer(classColors[Y], [caspianSouth]),
    shapeLayer(classColors[P], [rossShelf, shelfSliver, shelfBitA, shelfBitB]),
    frameLayer(0, 360, -90, 90, 7)
]);

// colour key
const barLayers = barTicks.slice(1).map((t, i) => shapeLayer(classColors[i], [[i,0, i + 1,0, i + 1,1, i,1]]));
new Chart(document.getElementById('scaleBar'), {
    type: 'scatter',
    data: { datasets: [...barLayers, frameLayer(0, 7, 0, 1, 6)].reverse() },
    options: {
        responsive: false, animation: false, devicePixelRatio: 1, events: [],
        layout: { padding: { top: 0, right: 93, left: 495, bottom: 28 } },
        plugins: { legend: { display: false }, tooltip: { enabled: false } },
        scales: {
            x: {
                type: 'linear', position: 'top', min: 0, max: 7,
                afterFit: s => { s.height = 104; },
                border: { display: false },
                grid: { display: false, drawTicks: false },
                ticks: { color: '#000', font: FONT, stepSize: 1, padding: -20, maxRotation: 0, autoSkip: false,
                    callback: v => barTicks[v] }
            },
            y: { type: 'linear', min: 0, max: 1, display: false }
        }
    }
});
</script>
</body>
</html>
